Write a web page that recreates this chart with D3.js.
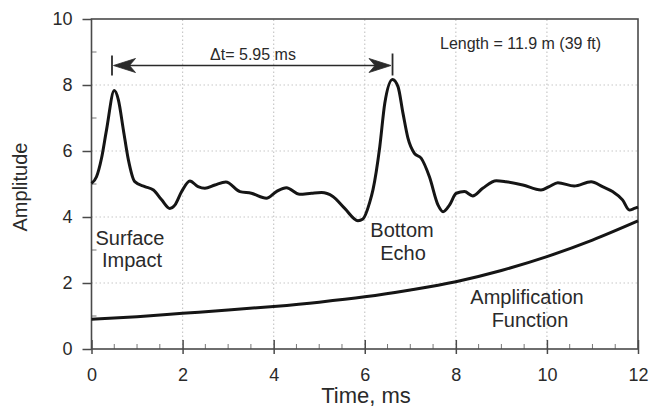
<!DOCTYPE html>
<html>
<head>
<meta charset="utf-8">
<script src="https://cdn.jsdelivr.net/npm/d3@7"></script>
<style>
  html, body { margin: 0; padding: 0; background: #fff; }
  svg { display: block; font-family: "Liberation Sans", Arial, sans-serif; }
</style>
</head>
<body>
<svg id="chart" width="651" height="407"></svg>
<script>
// ---- data ----
const timeMs = [0, 0.11, 0.22, 0.33, 0.50, 0.59, 0.70, 0.81, 0.95, 1.17, 1.36, 1.54, 1.72, 1.83, 1.98,
  2.16, 2.34, 2.49, 2.71, 2.95, 3.26, 3.51, 3.84, 4.06, 4.28, 4.57, 4.83, 5.05, 5.30, 5.56, 5.85,
  5.96, 6.11, 6.18, 6.33, 6.44, 6.61, 6.73, 6.84, 6.95, 7.09, 7.24, 7.42, 7.61, 7.72, 7.86, 8.01,
  8.19, 8.37, 8.59, 8.89, 9.10, 9.47, 9.87, 10.05, 10.24, 10.60, 10.97, 11.22, 11.44, 11.66, 11.81,
  11.92, 12.0];
const amplitude = [5.02, 5.22, 5.78, 6.64, 7.83, 7.55, 6.64, 5.73, 5.07, 4.92, 4.82, 4.52, 4.26, 4.36, 4.77,
  5.09, 4.92, 4.87, 4.97, 5.06, 4.77, 4.72, 4.57, 4.77, 4.89, 4.69, 4.72, 4.74, 4.62, 4.26, 3.89,
  3.94, 4.45, 4.82, 6.13, 7.45, 8.17, 7.95, 7.14, 6.38, 5.93, 5.78, 5.22, 4.36, 4.16, 4.36, 4.72,
  4.77, 4.64, 4.87, 5.10, 5.07, 4.97, 4.82, 4.92, 5.04, 4.94, 5.07, 4.92, 4.77, 4.52, 4.21,
  4.26, 4.30];
const ampFnTime = [0, 1, 2, 3, 4, 5, 6, 7, 8, 9, 10, 11, 12];
const ampFnValue = [0.90, 0.98, 1.08, 1.18, 1.29, 1.42, 1.58, 1.79, 2.04, 2.38, 2.80, 3.30, 3.88];
const xTicks = [0, 2, 4, 6, 8, 10, 12];
const yTicks = [0, 2, 4, 6, 8, 10];
const arrowTimes = [0.45, 6.61];
const deltaLabel = "\u0394t= 5.95 ms";
const lengthLabel = "Length = 11.9 m (39 ft)";

// ---- layout ----
const margin = { left: 91.5, top: 19, right: 13, bottom: 58 };
const W = 651, H = 407;
const svg = d3.select("#chart");
const x = d3.scaleLinear().domain([0, 12]).range([margin.left, W - margin.right]);
const y = d3.scaleLinear().domain([0, 10]).range([H - margin.bottom, margin.top]);
const axisColor = "#4a4a4a";
const textColor = "#2a2a2a";

// gridlines (dotted)
const grid = svg.append("g").attr("stroke", "#c8c8c8").attr("stroke-width", 1.2).attr("stroke-dasharray", "1.5,2.5");
grid.selectAll("line.h").data(yTicks.filter(d => d > 0 && d < 10)).join("line")
  .attr("x1", x(0)).attr("x2", x(12)).attr("y1", d => y(d)).attr("y2", d => y(d));
grid.selectAll("line.v").data(xTicks.filter(d => d > 0 && d < 12)).join("line")
  .attr("y1", y(0)).attr("y2", y(10)).attr("x1", d => x(d)).attr("x2", d => x(d));

// axes
const xAxis = d3.axisBottom(x).tickValues(xTicks).tickSize(5).tickPadding(14);
const gx = svg.append("g").attr("transform", `translate(0,${y(0)})`).call(xAxis);
gx.select(".domain").remove();
gx.selectAll(".tick line").attr("y1", -9).attr("y2", 5).attr("stroke", axisColor).attr("stroke-width", 1.5);
gx.selectAll(".tick text").attr("font-size", 18).attr("fill", textColor).attr("font-family", "Liberation Sans, Arial, sans-serif");

const yAxis = d3.axisLeft(y).tickValues(yTicks).tickSize(9).tickPadding(10);
const gy = svg.append("g").attr("transform", `translate(${x(0)},0)`).call(yAxis);
gy.select(".domain").remove();
gy.selectAll(".tick line").attr("stroke", axisColor).attr("stroke-width", 1.5);
gy.selectAll(".tick text").attr("font-size", 18).attr("fill", textColor).attr("font-family", "Liberation Sans, Arial, sans-serif");

// minor ticks
const minorX = d3.range(0.5, 12, 0.5).filter(d => !xTicks.includes(d));
svg.append("g").selectAll("line").data(minorX).join("line")
  .attr("x1", d => x(d)).attr("x2", d => x(d)).attr("y1", y(0)).attr("y2", y(0) - 5)
  .attr("stroke", "#777").attr("stroke-width", 1);
const minorY = d3.range(1, 10, 1).filter(d => !yTicks.includes(d));
svg.append("g").selectAll("line").data(minorY).join("line")
  .attr("y1", d => y(d)).attr("y2", d => y(d)).attr("x1", x(0)).attr("x2", x(0) + 5)
  .attr("stroke", "#777").attr("stroke-width", 1);

// frame
svg.append("rect").attr("x", x(0)).attr("y", y(10)).attr("width", x(12) - x(0)).attr("height", y(0) - y(10))
  .attr("fill", "none").attr("stroke", axisColor).attr("stroke-width", 1.6);

// waveform
const wave = timeMs.map((t, i) => [t, amplitude[i]]);
svg.append("path").datum(wave)
  .attr("d", d3.line().x(d => x(d[0])).y(d => y(d[1])).curve(d3.curveMonotoneX))
  .attr("fill", "none").attr("stroke", "#151515").attr("stroke-width", 3).attr("stroke-linejoin", "round");

// amplification function
const amp = ampFnTime.map((t, i) => [t, ampFnValue[i]]);
svg.append("path").datum(amp)
  .attr("d", d3.line().x(d => x(d[0])).y(d => y(d[1])).curve(d3.curveMonotoneX))
  .attr("fill", "none").attr("stroke", "#151515").attr("stroke-width", 3);

// Δt arrow
const ax1 = x(arrowTimes[0]), ax2 = x(arrowTimes[1]), ay = 65.5;
const ag = svg.append("g").attr("stroke", "#2a2a2a").attr("fill", "#2a2a2a");
ag.append("line").attr("x1", ax1 + 6).attr("x2", ax2 - 6).attr("y1", ay).attr("y2", ay).attr("stroke-width", 1.6);
ag.append("line").attr("x1", ax1).attr("x2", ax1).attr("y1", ay - 10).attr("y2", ay + 10).attr("stroke-width", 1.8);
ag.append("line").attr("x1", ax2).attr("x2", ax2).attr("y1", ay - 12).attr("y2", ay + 10).attr("stroke-width", 1.8);
const head = (tip, dir) => {
  const L = 22, w = 7, notch = 16;
  return `M${tip},${ay} L${tip + dir * L},${ay - w} L${tip + dir * notch},${ay} L${tip + dir * L},${ay + w} Z`;
};
ag.append("path").attr("d", head(ax1 + 1.5, 1)).attr("stroke-width", 0.8);
ag.append("path").attr("d", head(ax2 - 1.5, -1)).attr("stroke-width", 0.8);

// texts
const txt = (s, px, py, size, anchor) => svg.append("text").text(s).attr("x", px).attr("y", py)
  .attr("font-size", size).attr("fill", textColor).attr("text-anchor", anchor || "middle");
txt(deltaLabel, 253, 60, 16);
txt(lengthLabel, 440, 49, 16, "start");
txt("Surface", 130, 245, 20);
txt("Impact", 132, 267, 20);
txt("Bottom", 402, 237, 20);
txt("Echo", 403, 260, 20);
txt("Amplification", 527, 304, 20);
txt("Function", 530, 327, 20);
txt("Time, ms", 366, 403, 22);
svg.append("text").text("Amplitude").attr("transform", "translate(27,187) rotate(-90)")
  .attr("text-anchor", "middle").attr("font-size", 20).attr("fill", textColor);
</script>
</body>
</html>
